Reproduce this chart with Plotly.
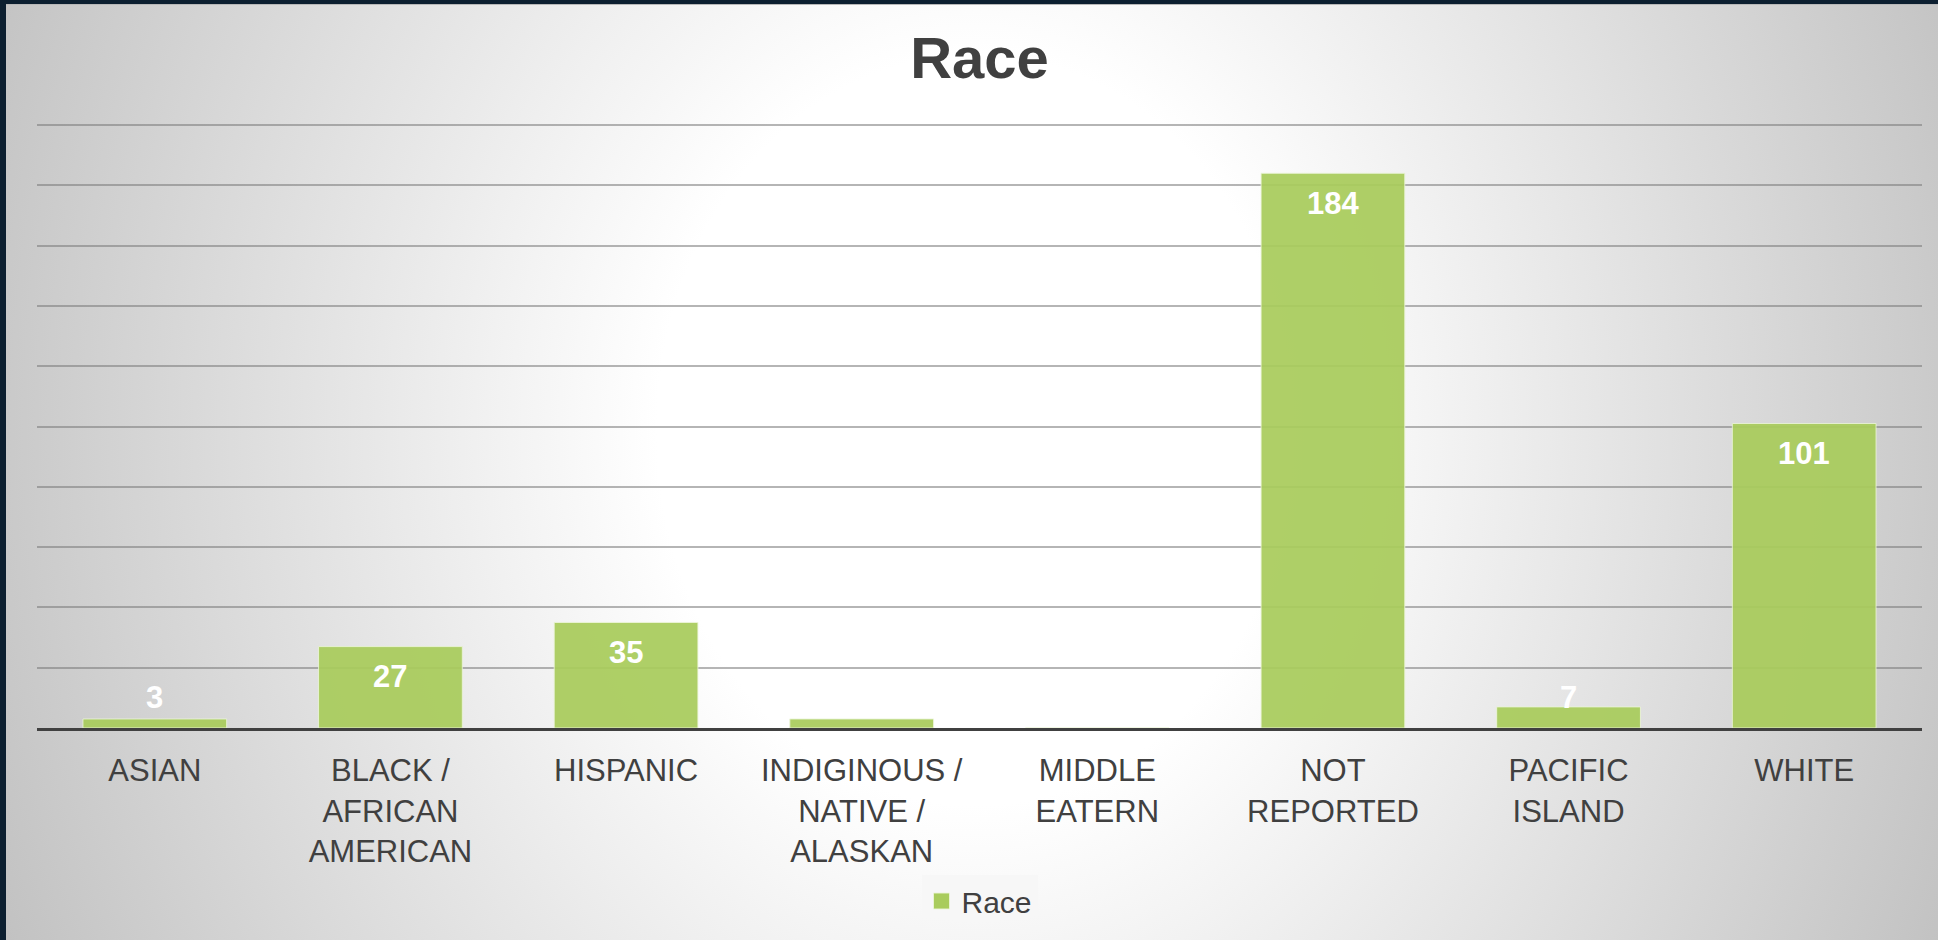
import base64
import plotly.graph_objects as go

# ---------------- data ----------------
categories = [
    "ASIAN",
    "BLACK /<br>AFRICAN<br>AMERICAN",
    "HISPANIC",
    "INDIGINOUS /<br>NATIVE /<br>ALASKAN",
    "MIDDLE<br>EATERN",
    "NOT<br>REPORTED",
    "PACIFIC<br>ISLAND",
    "WHITE",
]
values = [3, 27, 35, 3, 0, 184, 7, 101]
data_labels = ["3", "27", "35", "", "", "184", "7", "101"]
series_name = "Race"
chart_title = "Race"
y_max = 200
y_step = 20

# ---------------- layout geometry ----------------
W, H = 1938, 940
y_top = y_max + 1  # small headroom so the top gridline is drawn
ML, MR, MB = 37, 16, 212
unit_px = (940 - 212 - 125) / y_max
MT = int(round(125 - (y_top - y_max) * unit_px))
plot_w = W - ML - MR
plot_h = H - MT - MB
px_per_unit = plot_h / y_top

# background: slide-like radial gradient with dark frame at top/left
svg = f"""<svg xmlns='http://www.w3.org/2000/svg' width='{W}' height='{H}' viewBox='0 0 {W} {H}'>
<defs>
<radialGradient id='g' gradientUnits='userSpaceOnUse' cx='0' cy='0' r='1'
 gradientTransform='translate(975 430) scale(1060 1250)'>
<stop offset='0' stop-color='#ffffff'/>
<stop offset='0.3' stop-color='#ffffff'/>
<stop offset='1' stop-color='#c2c2c2'/>
</radialGradient>
</defs>
<rect x='0' y='0' width='{W}' height='{H}' fill='#0c1f30'/>
<rect x='6' y='4' width='{W-6}' height='{H-4}' fill='url(#g)'/>
<line x1='6' y1='4.5' x2='{W}' y2='4.5' stroke='#b8b8b8' stroke-width='1'/>
</svg>"""
bg_uri = "data:image/svg+xml;base64," + base64.b64encode(svg.encode()).decode()

bar_color = "#a9cc5c"
font_family = "Arial, 'Liberation Sans', sans-serif"

fig = go.Figure()
fig.add_trace(go.Bar(
    x=list(range(len(categories))),
    y=values,
    name=series_name,
    marker=dict(color=bar_color, opacity=0.93,
                line=dict(color="rgba(235,245,215,0.9)", width=1)),
    showlegend=False,
    hoverinfo="skip",
))
# legend entry with a larger square swatch
fig.add_trace(go.Scatter(
    x=[None], y=[None], mode="markers", name=series_name,
    marker=dict(symbol="square", size=17, color=bar_color,
                line=dict(color="rgba(235,245,215,0.9)", width=1)),
    showlegend=True, hoverinfo="skip",
))

# data labels (white, bold) - inside end, pushed up above axis when bar is short
offset_px = 30
annotations = []
for i, (v, lab) in enumerate(zip(values, data_labels)):
    if not lab:
        continue
    if v * px_per_unit >= 2 * offset_px:
        yy, ys = v, -offset_px
    else:
        yy, ys = 0, offset_px + 1
    annotations.append(dict(
        x=i, y=yy, xref="x", yref="y", yshift=ys, text=f"<b>{lab}</b>",
        showarrow=False, font=dict(family=font_family, size=31, color="white"),
        xanchor="center", yanchor="middle",
    ))

fig.update_layout(
    width=W, height=H,
    margin=dict(l=ML, r=MR, t=MT, b=MB, pad=0),
    paper_bgcolor="#d8d8d8",
    plot_bgcolor="rgba(0,0,0,0)",
    bargap=0.39,
    title=dict(text=f"<b>{chart_title}</b>", x=0.5, xref="paper", xanchor="center",
               y=1 - 58 / H, yref="container", yanchor="middle",
               font=dict(family=font_family, size=58, color="#404040")),
    font=dict(family=font_family, color="#404040"),
    images=[dict(source=bg_uri, xref="paper", yref="paper",
                 x=-ML / plot_w, y=1 + MT / plot_h,
                 sizex=W / plot_w, sizey=H / plot_h,
                 xanchor="left", yanchor="top", sizing="stretch",
                 layer="below")],
    annotations=annotations,
    legend=dict(orientation="h", x=0.5, xanchor="center", y=-(901 - MT - plot_h) / plot_h,
                yanchor="middle", bgcolor="rgba(246,246,246,0.9)",
                font=dict(family=font_family, size=30, color="#404040"),
                itemsizing="trace"),
    xaxis=dict(
        tickmode="array", tickvals=list(range(len(categories))), ticktext=categories,
        range=[-0.5, len(categories) - 0.5],
        showline=True, linecolor="#404040", linewidth=3,
        showgrid=False, zeroline=False, ticks="",
        tickfont=dict(family=font_family, size=31, color="#404040"),
        ticklabelstandoff=13,
        fixedrange=True,
    ),
    yaxis=dict(
        range=[0, y_top], tickmode="array",
        tickvals=list(range(0, y_max + 1, y_step)),
        showgrid=True, gridcolor="rgba(120,120,120,0.55)", gridwidth=1.5,
        showticklabels=False, zeroline=False, showline=False, ticks="",
        fixedrange=True,
    ),
)

fig.write_html("out.html", config={"displayModeBar": False},
               post_script="document.body.style.margin='0';document.body.style.overflow='hidden';")
